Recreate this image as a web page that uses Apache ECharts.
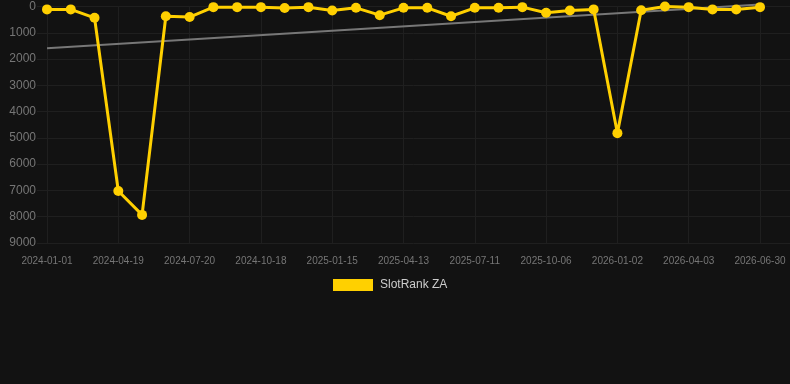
<!DOCTYPE html>
<html>
<head>
<meta charset="utf-8">
<script src="https://cdn.jsdelivr.net/npm/echarts@6/dist/echarts.min.js"></script>
<style>
html,body{margin:0;padding:0;background:#121212;}
#c{width:790px;height:384px;}
</style>
</head>
<body>
<div id="c"></div>
<script>
const dates = [
 "2024-01-01","2024-02-06","2024-03-14","2024-04-19","2024-05-20","2024-06-20",
 "2024-07-20","2024-08-19","2024-09-18","2024-10-18","2024-11-17","2024-12-16",
 "2025-01-15","2025-02-13","2025-03-15","2025-04-13","2025-05-13","2025-06-11",
 "2025-07-11","2025-08-09","2025-09-07","2025-10-06","2025-11-04","2025-12-03",
 "2026-01-02","2026-02-01","2026-03-04","2026-04-03","2026-05-02","2026-05-31",
 "2026-06-30"
];
const rankZA = [
 110,110,430,7020,7930,370,
 400,25,25,25,60,25,
 150,50,330,50,50,370,
 50,50,25,240,150,110,
 4820,140,0,25,110,110,
 25
];
const trendStart = 1590;
const trendEnd = -80;
const yMin = 0, yMax = 9000, yStep = 1000;

const trend = dates.map((d,i)=> i===0 ? trendStart : (i===dates.length-1 ? trendEnd : null));
const FONT = '"Liberation Sans", Arial, sans-serif';
const GRIDC = '#1f1f1f';

const chart = echarts.init(document.getElementById('c'), null, {renderer:'canvas'});
chart.setOption({
  backgroundColor:'#121212',
  textStyle:{fontFamily:FONT},
  animation:false,
  grid:[
    {left:47,right:30,top:6.5,bottom:141,containLabel:false},
    {left:37,right:0,top:6.5,bottom:141,containLabel:false}
  ],
  legend:{
    data:['SlotRank ZA'],
    bottom:88,
    left:328,
    itemWidth:40,itemHeight:12,itemGap:10,
    icon:'rect',
    textStyle:{color:'#cccccc',fontSize:12,fontFamily:FONT,padding:[0,0,0,2]}
  },
  xAxis:[
    {
      type:'category',
      gridIndex:0,
      data:dates,
      boundaryGap:false,
      axisLine:{show:false},
      axisTick:{show:true,interval:2,length:10,lineStyle:{color:GRIDC}},
      axisLabel:{color:'#767676',fontSize:10,margin:13,interval:2,fontFamily:FONT},
      splitLine:{show:true,interval:2,lineStyle:{color:GRIDC,width:1}}
    },
    {type:'value',gridIndex:1,show:false,min:0,max:1}
  ],
  yAxis:[
    {
      type:'value',
      gridIndex:0,
      inverse:true,
      min:yMin,max:yMax,interval:yStep,
      axisLine:{show:false},
      axisTick:{show:false},
      axisLabel:{color:'#767676',fontSize:12,margin:11,fontFamily:FONT,formatter:v=>String(v)},
      splitLine:{show:false}
    },
    {
      type:'value',
      gridIndex:1,
      inverse:true,
      min:yMin,max:yMax,interval:yStep,
      axisLine:{show:false},
      axisTick:{show:false},
      axisLabel:{show:false},
      splitLine:{show:true,lineStyle:{color:GRIDC,width:1}}
    }
  ],
  series:[
    {
      name:'grid2',
      type:'line',
      xAxisIndex:1,yAxisIndex:1,
      data:[],
      silent:true
    },
    {
      name:'trend',
      type:'line',
      data:trend,
      connectNulls:true,
      clip:false,
      symbol:'none',
      lineStyle:{color:'#777777',width:2},
      z:1,
      silent:true
    },
    {
      name:'SlotRank ZA',
      type:'line',
      data:rankZA,
      clip:false,
      symbol:'circle',
      symbolSize:10,
      itemStyle:{color:'#FFD000'},
      lineStyle:{color:'#FFD000',width:3},
      z:2
    }
  ]
});
</script>
</body>
</html>
